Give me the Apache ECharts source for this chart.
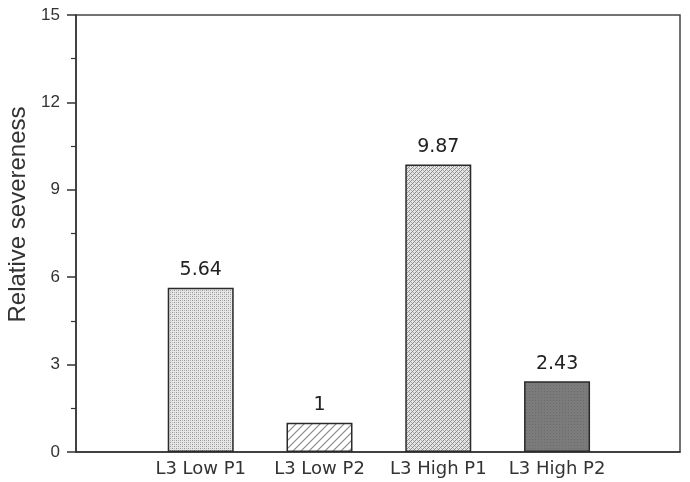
<!DOCTYPE html>
<html>
<head>
<meta charset="utf-8">
<script src="https://cdn.jsdelivr.net/npm/echarts@6/dist/echarts.min.js"></script>
<style>
  html, body { margin: 0; padding: 0; background: #fff; }
  #chart { width: 690px; height: 482px; }
</style>
</head>
<body>
<div id="chart"></div>
<script>
const categories = ["L3 Low P1", "L3 Low P2", "L3 High P1", "L3 High P2"];
const values = [5.64, 1, 9.87, 2.43];
const yTicks = [0, 3, 6, 9, 12, 15];

// small canvas tiles used as fill patterns
const makeTile = (size, draw) => {
    const c = document.createElement("canvas");
    c.width = size;
    c.height = size;
    draw(c.getContext("2d"));
    return c;
};
const dotTile = makeTile(4, (g) => {
    g.fillStyle = "#e6e6e6";
    g.fillRect(0, 0, 4, 4);
    g.fillStyle = "#959595";
    g.fillRect(0, 0, 1, 1);
    g.fillRect(2, 2, 1, 1);
    g.fillStyle = "#b8b8b8";
    g.fillRect(2, 0, 1, 1);
    g.fillRect(0, 2, 1, 1);
});
const hatchTile = makeTile(8, (g) => {
    g.fillStyle = "#ffffff";
    g.fillRect(0, 0, 8, 8);
    g.strokeStyle = "#8a8a8a";
    g.lineWidth = 1.2;
    g.beginPath();
    g.moveTo(-1, 9); g.lineTo(9, -1);
    g.moveTo(-1, 1); g.lineTo(1, -1);
    g.moveTo(7, 9); g.lineTo(9, 7);
    g.stroke();
});
const weaveTile = makeTile(4, (g) => {
    g.fillStyle = "#e4e4e4";
    g.fillRect(0, 0, 4, 4);
    g.fillStyle = "#8c8c8c";
    g.fillRect(3, 0, 1, 1);
    g.fillRect(2, 1, 1, 1);
    g.fillRect(1, 2, 1, 1);
    g.fillRect(0, 3, 1, 1);
    g.fillStyle = "#b4b4b4";
    g.fillRect(1, 0, 1, 1);
    g.fillRect(3, 2, 1, 1);
});
const darkTile = makeTile(3, (g) => {
    g.fillStyle = "#7b7b7b";
    g.fillRect(0, 0, 3, 3);
    g.fillStyle = "#6c6c6c";
    g.fillRect(1, 1, 1, 1);
});
const fills = [dotTile, hatchTile, weaveTile, darkTile];

const chart = echarts.init(document.getElementById("chart"));
const option = {
    animation: false,
    grid: {
        left: 76,
        right: 10,
        top: 15,
        bottom: 30,
        outerBoundsMode: "none",
        show: true,
        borderColor: "#444",
        borderWidth: 1.5,
    },
    xAxis: {
        type: "value",
        min: -0.05,
        max: 5.035,
        axisLine: { show: true, onZero: false, lineStyle: { color: "#333", width: 1.5 } },
        axisTick: { show: false },
        splitLine: { show: false },
        axisLabel: {
            customValues: [1, 2, 3, 4],
            formatter: (v) => categories[Math.round(v) - 1] || "",
            fontFamily: "DejaVu Sans",
            fontSize: 18,
            color: "#333",
            margin: 8,
        },
    },
    yAxis: {
        type: "value",
        min: 0,
        max: 15,
        interval: 3,
        name: "Relative severeness",
        nameLocation: "middle",
        nameGap: 46,
        nameTextStyle: {
            fontFamily: "Liberation Sans",
            fontSize: 24,
            color: "#333",
            padding: [0, 0, 0, 38],
        },
        axisLine: { show: true, onZero: false, lineStyle: { color: "#333", width: 1.5 } },
        axisTick: { show: true, inside: false, length: 9, lineStyle: { color: "#333", width: 1.5 } },
        minorTick: { show: true, splitNumber: 2, length: 5, lineStyle: { color: "#333", width: 1.2 } },
        splitLine: { show: false },
        axisLabel: {
            fontFamily: "Liberation Sans",
            fontSize: 17,
            color: "#333",
            margin: 16,
            formatter: (v) => (yTicks.includes(v) ? String(v) : ""),
        },
    },
    series: [
        {
            type: "bar",
            barWidth: 66,
            data: values.map((v, i) => ({
                value: [i + 1, v],
                itemStyle: {
                    color: { image: fills[i], repeat: "repeat" },
                    borderColor: "#2a2a2a",
                    borderWidth: 1.5,
                },
            })),
            label: {
                show: true,
                position: "top",
                distance: 8,
                fontFamily: "DejaVu Sans",
                fontSize: 19,
                color: "#222",
                formatter: (p) => String(p.value[1]),
            },
        },
    ],
};
chart.setOption(option);
</script>
</body>
</html>
